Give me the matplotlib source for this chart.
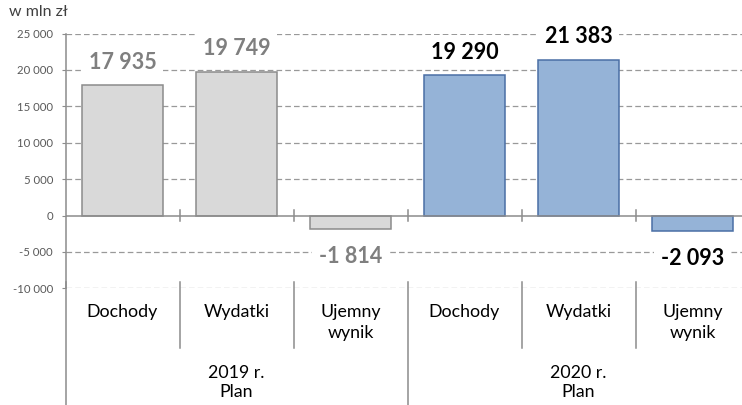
import matplotlib
matplotlib.use("Agg")
import matplotlib.pyplot as plt
import numpy as np

plt.rcParams['font.family'] = ['Lato', 'DejaVu Sans']

# data
groups = ["2019 r.\nPlan", "2020 r.\nPlan"]
categories = ["Dochody", "Wydatki", "Ujemny\nwynik"]
values_2019 = [17935, 19749, -1814]
values_2020 = [19290, 21383, -2093]
y_ticks = [-10000, -5000, 0, 5000, 10000, 15000, 20000, 25000]

W, H = 742, 405
fig = plt.figure(figsize=(W / 100, H / 100), dpi=100)
ax_left, ax_right = 65.5, 65.5 + 6 * 114
ax_top, ax_bot = 33.5, 288.3
ax = fig.add_axes([ax_left / W, (H - ax_bot) / H, (ax_right - ax_left) / W, (ax_bot - ax_top) / H])

grid_col = '#999999'
axis_col = '#8c8c8c'

n_cat = len(categories)
x2019 = np.arange(n_cat)
x2020 = np.arange(n_cat) + n_cat

ax.set_xlim(-0.5, 2 * n_cat - 0.5)
ax.set_ylim(y_ticks[0], y_ticks[-1])

# gridlines
for t in y_ticks:
    if t == 0:
        continue
    ax.axhline(t, color=grid_col, lw=0.9, dashes=(4.5, 2.5), zorder=0)
ax.axhline(0, color=axis_col, lw=1.1, zorder=3)

w = 0.71
ax.bar(x2019, values_2019, width=w, color='#d9d9d9', edgecolor='#8c8c8c', lw=1.1, zorder=2)
ax.bar(x2020, values_2020, width=w, color='#95b3d7', edgecolor='#4a6fa5', lw=1.1, zorder=2)


def fmt(v):
    s = f"{abs(v):,}".replace(",", " ")
    return ("-" if v < 0 else "") + s


for xs, vals, col in ((x2019, values_2019, '#7f7f7f'), (x2020, values_2020, 'black')):
    for x, v in zip(xs, vals):
        off = 16.5 if v > 0 else -20
        ax.annotate(fmt(v), (x, v), xytext=(0, off), textcoords='offset points',
                    ha='center', va='center', fontsize=15.5, fontweight='bold', color=col,
                    bbox=dict(boxstyle='square,pad=0.3', fc='white', ec='none'), zorder=4)

# y axis
ax.set_yticks(y_ticks)
ax.set_yticklabels([fmt(t) for t in y_ticks], fontsize=8.2, color='#595959')
ax.tick_params(axis='y', direction='out', length=3, width=0.8, color=axis_col, pad=6)
ax.set_xticks([])
for s in ['top', 'right', 'bottom']:
    ax.spines[s].set_visible(False)
ax.spines['left'].set_color(axis_col)
ax.spines['left'].set_linewidth(1.1)

# px -> data y
py = lambda p: y_ticks[-1] - (p - ax_top) * (y_ticks[-1] - y_ticks[0]) / (ax_bot - ax_top)

# ticks crossing the zero axis
for b in np.arange(0.5, 2 * n_cat - 1, 1.0):
    ax.plot([b, b], [py(210), py(220.5)], color=axis_col, lw=1.1, zorder=3, clip_on=False)

# category separators
for b in np.arange(-0.5, 2 * n_cat, 1.0):
    group_edge = abs((b + 0.5) % n_cat) < 1e-9
    bottom = H if group_edge else 348
    ax.plot([b, b], [py(282), py(bottom)], color=axis_col, lw=1.1, zorder=3, clip_on=False)

# category labels
for xs in (x2019, x2020):
    for x, c in zip(xs, categories):
        ax.text(x, py(304), c, ha='center', va='top', fontsize=12.8, color='black',
                linespacing=1.35)

for i, g in enumerate(groups):
    ax.text(i * n_cat + (n_cat - 1) / 2, py(365), g, ha='center', va='top', fontsize=12.8,
            color='black', linespacing=1.25)

fig.text(9 / W, 1 - 12 / H, "w mln zł", fontsize=11.5, color='#404040', va='center', ha='left')

fig.savefig("out.png", dpi=100)
